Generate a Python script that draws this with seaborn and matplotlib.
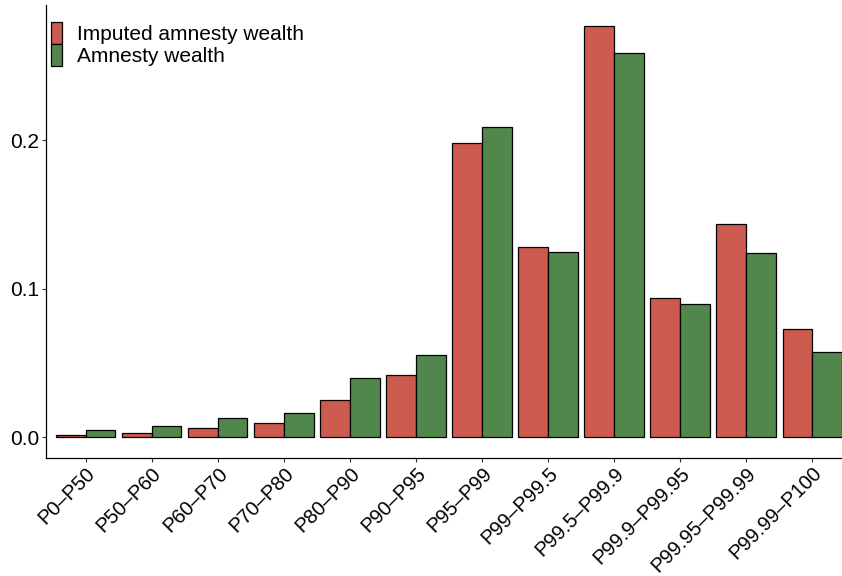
import matplotlib
matplotlib.use("Agg")
import matplotlib.pyplot as plt
import pandas as pd
import seaborn as sns

categories = ["P0\u2013P50", "P50\u2013P60", "P60\u2013P70", "P70\u2013P80", "P80\u2013P90",
              "P90\u2013P95", "P95\u2013P99", "P99\u2013P99.5", "P99.5\u2013P99.9",
              "P99.9\u2013P99.95", "P99.95\u2013P99.99", "P99.99\u2013P100"]
imputed = [0.0013, 0.0027, 0.006, 0.0094, 0.025, 0.042, 0.198, 0.128, 0.277, 0.0936, 0.1434, 0.0727]
amnesty = [0.0047, 0.0074, 0.0128, 0.016, 0.040, 0.055, 0.209, 0.1245, 0.2585, 0.0896, 0.124, 0.057]
series = ["Imputed amnesty wealth", "Amnesty wealth"]
colors = ["#CD5A4E", "#52874B"]

df = pd.DataFrame({
    "group": categories * 2,
    "value": imputed + amnesty,
    "series": [series[0]] * len(categories) + [series[1]] * len(categories),
})

sns.set_theme(style="white")
plt.rcParams["font.family"] = ["Liberation Sans", "DejaVu Sans"]
plt.rcParams["text.color"] = "black"

fig = plt.figure(figsize=(8.42, 5.76), dpi=100)
ax = fig.add_axes([46 / 842, 118 / 576, 1 - 46 / 842, (458 - 5) / 576])

sns.barplot(data=df, x="group", y="value", hue="series", palette=colors,
            width=0.9, edgecolor="black", linewidth=0.9, saturation=1, ax=ax)

ax.set_xlim(-0.6, 11.45)
ax.set_ylim(-0.0141, 0.291)
ax.set_yticks([0.0, 0.1, 0.2])
ax.set_yticklabels(["0.0", "0.1", "0.2"])
ax.set_xlabel("")
ax.set_ylabel("")
ax.tick_params(axis="both", length=3, width=0.8, color="#333333",
               labelcolor="black", direction="out", bottom=True, left=True)
ax.tick_params(axis="y", labelsize=15, pad=2)
ax.tick_params(axis="x", labelsize=14.5, pad=1)
plt.setp(ax.get_xticklabels(), rotation=45, ha="right", rotation_mode="anchor")

for side in ["top", "right"]:
    ax.spines[side].set_visible(False)
for side in ["left", "bottom"]:
    ax.spines[side].set_color("black")
    ax.spines[side].set_linewidth(0.9)

leg = ax.legend(loc="upper left", bbox_to_anchor=(5 / 796, 1 - 17 / 453), frameon=False,
                fontsize=15, handlelength=0.55, handleheight=1.25, labelspacing=0.0,
                handletextpad=0.7, borderaxespad=0, borderpad=0)

fig.savefig("out.png", dpi=100)
